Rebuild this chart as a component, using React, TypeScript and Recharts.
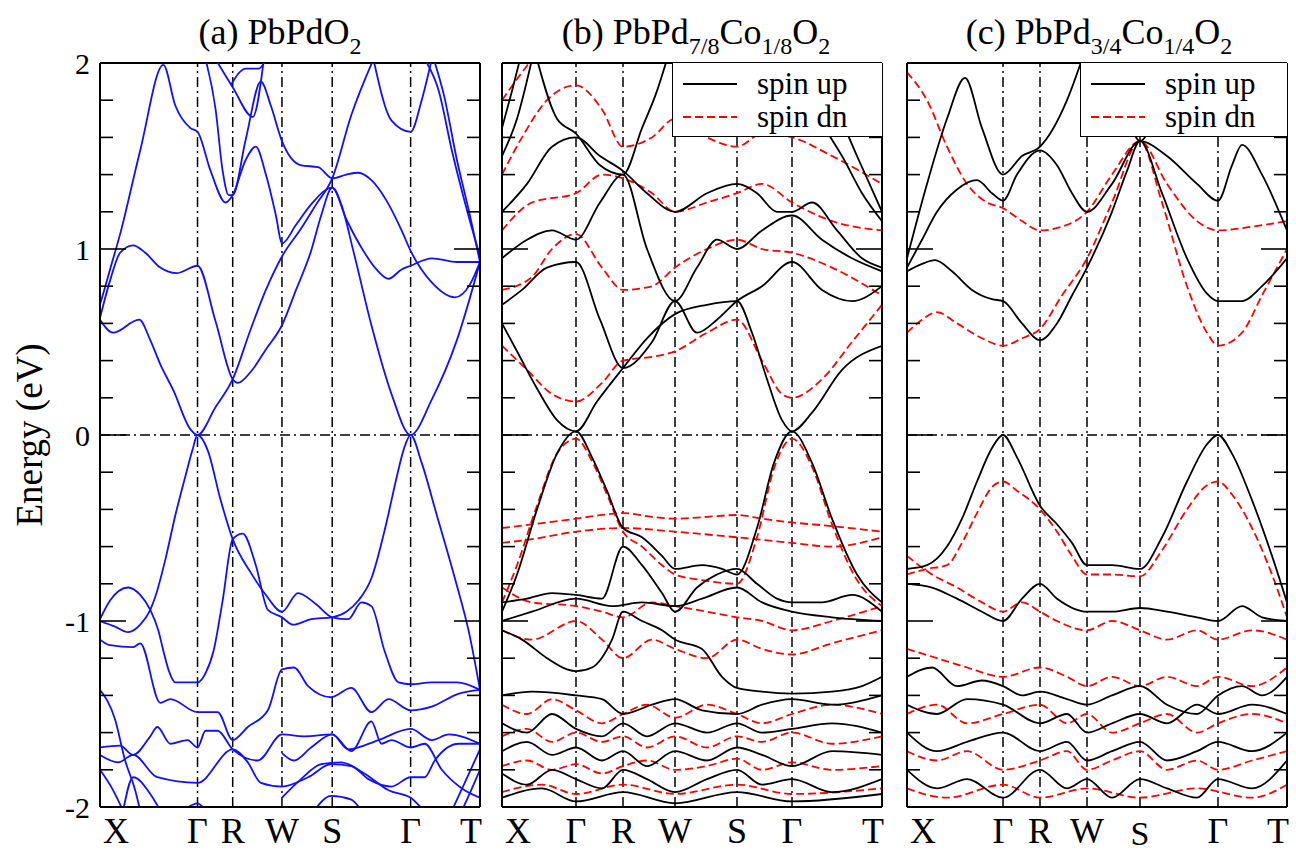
import React from 'react';
import { LineChart, Line, XAxis, YAxis, ReferenceLine } from 'recharts';

type Band = [number, number][];

// high-symmetry points along the k-path of each panel
const kLabels = ['X', 'Γ', 'R', 'W', 'S', 'Γ', 'T'];
const kPointsA = [0, 97, 132, 181, 231, 309, 378];
const kPointsB = [0, 74, 121, 173, 235, 290, 380];
const kPointsC = [0, 96, 133, 180, 233, 311, 380];

const yTicks = [-2, -1.8, -1.6, -1.4, -1.2, -1, -0.8, -0.6, -0.4, -0.2, 0, 0.2, 0.4, 0.6, 0.8, 1, 1.2, 1.4, 1.6, 1.8, 2];

// (a) PbPdO2 bands, [k, E in eV]
const bandsA: Band[] = [
  [[0, 0.62], [13, 0.55], [39, 0.62], [50, 0.51], [60, 0.38], [73, 0.24], [90, 0.03], [97, 0], [115, 0.15], [132, 0.3], [150, 0.57], [165, 0.78], [181, 0.96], [200, 1.11], [215, 1.24], [231, 1.38], [250, 1.72], [272, 2.02]],
  [[0, 0.63], [10, 0.83], [20, 0.98], [33, 1.02], [45, 0.98], [60, 0.9], [76, 0.87], [97, 0.91], [115, 0.61], [132, 0.3], [137, 0.28], [150, 0.34], [165, 0.46], [181, 0.59], [195, 0.78], [210, 0.99], [220, 1.18], [231, 1.33], [240, 1.24], [252, 0.99], [270, 0.59], [290, 0.22], [309, 0], [330, 0.19], [355, 0.51], [378, 0.93]],
  [[0, 0.7], [10, 0.89], [20, 1.08], [40, 1.53], [63, 1.99], [75, 1.77], [90, 1.65], [97, 1.63], [110, 1.42], [125, 1.25], [132, 1.29], [145, 1.48], [155, 1.55], [165, 1.4], [175, 1.18], [181, 1.03], [195, 1.13], [210, 1.24], [231, 1.33], [245, 1.16], [262, 0.99], [275, 0.89], [287, 0.84], [300, 0.89], [309, 0.91], [330, 0.95], [355, 0.93], [378, 0.93]],
  [[105, 2.02], [115, 1.75], [122, 1.42], [128, 1.29], [132, 1.29], [145, 1.59], [160, 1.9], [170, 1.77], [181, 1.58], [200, 1.45], [217, 1.44], [231, 1.38], [245, 1.4], [257, 1.41], [270, 1.37], [285, 1.26], [300, 1.1], [309, 0.99], [330, 0.82], [353, 0.74], [368, 0.81], [378, 0.93]],
  [[272, 2.02], [290, 1.69], [309, 1.63], [320, 1.8], [330, 2.02]],
  [[323, 2.02], [337, 1.85], [350, 1.53], [365, 1.21], [378, 0.96]],
  [[332, 2.02], [342, 1.83], [355, 1.48], [368, 1.18], [378, 0.93]],
  [[115, 2.02], [132, 1.87], [152, 1.71], [163, 2.02]],
  [[130, 1.88], [145, 1.97], [158, 1.97], [165, 2.02]],
  // valence
  [[0, -1.0], [15, -1.03], [28, -1.06], [40, -1.02], [50, -0.94], [55, -0.87], [65, -0.67], [75, -0.43], [85, -0.22], [92, -0.08], [97, 0], [107, -0.08], [120, -0.35], [132, -0.56], [150, -0.74], [165, -0.86], [181, -0.95], [197, -0.85], [215, -0.91], [231, -0.98], [247, -0.99], [260, -0.9], [270, -0.92], [283, -1.16], [297, -1.33], [309, -1.34], [330, -1.33], [355, -1.33], [378, -1.37]],
  [[0, -0.99], [10, -0.89], [28, -0.82], [40, -0.86], [50, -0.94], [58, -1.05], [63, -1.16], [68, -1.26], [75, -1.33], [97, -1.33], [105, -1.28], [113, -1.16], [122, -0.89], [132, -0.56], [142, -0.53], [155, -0.7], [167, -0.94], [181, -0.98], [192, -1.02], [210, -0.99], [231, -0.98], [245, -0.95], [257, -0.89], [270, -0.77], [285, -0.47], [295, -0.23], [302, -0.08], [309, 0], [320, -0.15], [335, -0.43], [353, -0.77], [367, -1.06], [378, -1.37]],
  [[0, -1.1], [10, -1.13], [33, -1.14], [40, -1.12], [60, -1.44], [70, -1.42], [97, -1.49], [117, -1.49], [132, -1.64], [147, -1.57], [167, -1.48], [181, -1.26], [193, -1.25], [207, -1.35], [230, -1.41], [250, -1.36], [270, -1.49], [287, -1.42], [309, -1.48], [330, -1.46], [357, -1.39], [378, -1.37]],
  [[0, -1.68], [20, -1.67], [33, -1.72], [50, -1.62], [57, -1.57], [70, -1.66], [87, -1.64], [97, -1.68], [105, -1.59], [117, -1.59], [132, -1.69], [157, -1.75], [181, -1.61], [203, -1.62], [231, -1.61], [247, -1.69], [277, -1.64], [309, -1.58], [330, -1.64], [347, -1.61], [378, -1.66]],
  [[181, -1.71], [193, -1.75], [210, -1.68], [231, -1.61], [250, -1.7], [270, -1.54], [280, -1.66], [290, -1.64], [309, -1.68], [323, -1.66], [340, -1.8], [360, -1.9], [378, -1.95]],
  [[0, -1.72], [18, -1.76], [33, -1.72], [57, -1.84], [97, -1.87], [132, -1.69], [147, -1.76], [160, -1.87], [181, -1.89], [207, -1.84], [230, -1.77], [250, -1.78], [267, -1.85], [290, -1.89], [309, -1.84], [323, -1.84], [333, -1.75], [357, -1.66], [378, -1.66]],
  [[181, -1.95], [200, -1.85], [220, -1.77], [240, -1.76], [263, -1.82], [287, -1.91], [309, -1.95], [322, -2.02]],
  [[0, -1.37], [15, -1.53], [25, -1.75], [35, -1.91], [40, -2.02]],
  [[0, -1.8], [12, -1.9], [23, -2.02]],
  [[23, -2.02], [33, -1.84], [50, -1.93], [60, -2.02]],
  [[83, -2.02], [97, -1.98], [105, -2.02]],
  [[213, -2.02], [230, -1.94], [250, -1.96], [260, -2.02]],
  [[350, -2.02], [367, -1.82], [378, -1.69]],
  [[360, -2.02], [370, -1.9], [378, -1.8]],
];

// (b) PbPd7/8Co1/8O2, spin up
const bandsBUp: Band[] = [
  [[0, 0.6], [15, 0.45], [35, 0.25], [55, 0.08], [74, 0.02], [95, 0.18], [121, 0.36], [145, 0.52], [173, 0.65], [205, 0.7], [235, 0.72], [250, 0.55], [265, 0.3], [280, 0.08], [290, 0.02], [310, 0.12], [340, 0.35], [380, 0.48]],
  [[0, 0.7], [20, 0.78], [45, 0.9], [74, 0.93], [98, 0.62], [121, 0.36], [150, 0.5], [173, 0.72], [195, 0.55], [215, 0.62], [235, 0.72], [260, 0.8], [290, 0.93], [320, 0.78], [350, 0.72], [380, 0.8]],
  [[0, 0.95], [25, 1.05], [50, 1.1], [74, 1.05], [98, 1.25], [121, 1.4], [145, 1.0], [173, 0.72], [195, 0.9], [215, 1.05], [235, 1.0], [260, 1.1], [290, 1.18], [320, 1.05], [350, 0.95], [380, 0.88]],
  [[0, 1.2], [25, 1.35], [50, 1.55], [74, 1.6], [98, 1.5], [121, 1.42], [145, 1.3], [173, 1.2], [205, 1.3], [235, 1.35], [255, 1.3], [275, 1.2], [290, 1.2], [310, 1.25], [335, 1.1], [360, 0.95], [380, 0.9]],
  [[0, 1.5], [15, 1.7], [30, 2.02]],
  [[0, 1.65], [10, 1.85], [18, 2.02]],
  [[35, 2.02], [55, 1.7], [74, 1.62], [98, 1.45], [121, 1.4], [140, 1.65], [155, 1.85], [165, 2.02]],
  [[190, 2.02], [210, 1.75], [235, 1.62], [260, 1.7], [290, 1.8], [315, 1.7], [340, 1.5], [360, 1.3], [380, 1.15]],
  [[300, 2.02], [330, 1.8], [355, 1.5], [380, 1.2]],
  // valence
  [[0, -0.95], [15, -0.75], [35, -0.4], [55, -0.1], [74, 0.02], [90, -0.12], [105, -0.3], [121, -0.5], [140, -0.55], [160, -0.65], [173, -0.72], [200, -0.7], [220, -0.72], [235, -0.75], [255, -0.5], [272, -0.15], [290, 0.02], [310, -0.15], [330, -0.45], [355, -0.75], [380, -0.9]],
  [[0, -0.9], [25, -0.88], [50, -0.85], [74, -0.86], [100, -0.88], [121, -0.6], [140, -0.7], [160, -0.85], [173, -0.95], [195, -0.82], [215, -0.75], [235, -0.72], [255, -0.8], [275, -0.88], [290, -0.9], [320, -0.9], [350, -0.86], [380, -0.95]],
  [[0, -1.0], [30, -0.95], [74, -0.88], [110, -0.92], [140, -0.9], [173, -0.92], [200, -0.88], [235, -0.82], [260, -0.9], [290, -0.95], [330, -0.98], [380, -1.0]],
  [[0, -1.05], [20, -1.1], [45, -1.2], [65, -1.26], [74, -1.27], [90, -1.25], [110, -1.1], [121, -0.95], [140, -1.0], [160, -1.05], [173, -1.1], [200, -1.15], [220, -1.3], [235, -1.36], [260, -1.38], [290, -1.39], [330, -1.38], [360, -1.35], [380, -1.3]],
  [[0, -1.4], [30, -1.38], [74, -1.4], [100, -1.42], [121, -1.5], [150, -1.45], [173, -1.42], [200, -1.48], [235, -1.5], [260, -1.45], [290, -1.42], [330, -1.45], [380, -1.4]],
  [[0, -1.55], [25, -1.6], [50, -1.5], [74, -1.58], [100, -1.62], [121, -1.55], [145, -1.62], [173, -1.55], [205, -1.6], [235, -1.55], [260, -1.6], [290, -1.58], [330, -1.55], [380, -1.6]],
  [[0, -1.7], [25, -1.65], [50, -1.72], [74, -1.68], [100, -1.75], [121, -1.7], [145, -1.78], [173, -1.7], [205, -1.75], [235, -1.68], [260, -1.72], [290, -1.78], [330, -1.7], [380, -1.72]],
  [[0, -1.82], [25, -1.88], [50, -1.8], [74, -1.85], [100, -1.9], [121, -1.8], [145, -1.85], [173, -1.92], [205, -1.85], [235, -1.8], [260, -1.88], [290, -1.85], [330, -1.92], [380, -1.85]],
  [[0, -1.95], [40, -1.9], [74, -1.97], [121, -1.92], [173, -1.98], [235, -1.92], [290, -1.97], [380, -1.93]],
];

// (b) spin down
const bandsBDn: Band[] = [
  [[0, 0.48], [25, 0.35], [50, 0.22], [74, 0.18], [100, 0.28], [121, 0.4], [150, 0.42], [173, 0.45], [205, 0.55], [235, 0.62], [260, 0.4], [280, 0.22], [290, 0.2], [320, 0.3], [350, 0.5], [380, 0.7]],
  [[0, 0.78], [30, 0.85], [50, 1.0], [74, 1.08], [100, 0.9], [121, 0.78], [150, 0.8], [173, 0.9], [205, 1.0], [235, 1.05], [260, 1.0], [290, 0.98], [330, 0.9], [380, 0.75]],
  [[0, 1.1], [30, 1.25], [74, 1.3], [100, 1.4], [121, 1.38], [150, 1.3], [173, 1.2], [205, 1.25], [235, 1.3], [260, 1.35], [290, 1.25], [330, 1.15], [380, 1.1]],
  [[0, 1.4], [20, 1.6], [45, 1.8], [74, 1.88], [100, 1.75], [121, 1.55], [150, 1.6], [173, 1.7], [205, 1.6], [235, 1.55], [260, 1.62], [290, 1.6], [330, 1.5], [380, 1.35]],
  [[0, 1.8], [20, 1.95], [30, 2.02]],
  // valence
  [[0, -0.9], [15, -0.7], [35, -0.38], [55, -0.1], [74, -0.02], [90, -0.14], [105, -0.32], [121, -0.52], [140, -0.6], [160, -0.7], [173, -0.75], [200, -0.78], [235, -0.8], [255, -0.55], [272, -0.18], [290, -0.02], [310, -0.17], [330, -0.48], [355, -0.78], [380, -0.92]],
  [[0, -0.5], [30, -0.48], [74, -0.45], [100, -0.43], [121, -0.42], [150, -0.44], [173, -0.45], [205, -0.44], [235, -0.43], [260, -0.45], [290, -0.47], [330, -0.49], [380, -0.52]],
  [[0, -0.58], [30, -0.56], [74, -0.52], [121, -0.5], [173, -0.52], [235, -0.55], [290, -0.58], [330, -0.6], [380, -0.55]],
  [[0, -0.82], [30, -0.9], [74, -0.92], [100, -0.95], [121, -0.98], [150, -0.9], [173, -0.92], [205, -0.95], [235, -0.98], [260, -1.0], [290, -1.05], [330, -1.0], [380, -0.92]],
  [[0, -1.05], [30, -1.1], [74, -1.0], [100, -1.1], [121, -1.2], [150, -1.1], [173, -1.15], [205, -1.2], [235, -1.1], [260, -1.15], [290, -1.18], [330, -1.12], [380, -1.05]],
  [[0, -1.45], [25, -1.5], [50, -1.42], [74, -1.48], [100, -1.55], [121, -1.5], [145, -1.45], [173, -1.52], [205, -1.45], [235, -1.5], [260, -1.55], [290, -1.5], [330, -1.45], [380, -1.5]],
  [[0, -1.62], [25, -1.58], [50, -1.65], [74, -1.6], [100, -1.65], [121, -1.62], [145, -1.68], [173, -1.62], [205, -1.68], [235, -1.62], [260, -1.65], [290, -1.6], [330, -1.66], [380, -1.62]],
  [[0, -1.78], [25, -1.75], [50, -1.8], [74, -1.77], [100, -1.82], [121, -1.78], [145, -1.75], [173, -1.8], [205, -1.78], [235, -1.74], [260, -1.8], [290, -1.76], [330, -1.8], [380, -1.78]],
  [[0, -1.92], [40, -1.88], [74, -1.93], [121, -1.88], [173, -1.93], [235, -1.88], [290, -1.93], [380, -1.9]],
];

// (c) PbPd3/4Co1/4O2, spin up
const bandsCUp: Band[] = [
  [[0, 0.88], [15, 0.92], [28, 0.94], [45, 0.88], [65, 0.78], [85, 0.73], [96, 0.72], [115, 0.6], [133, 0.51], [150, 0.6], [165, 0.75], [180, 0.9], [205, 1.2], [220, 1.42], [233, 1.58], [255, 1.3], [280, 0.95], [300, 0.76], [311, 0.72], [335, 0.72], [355, 0.8], [380, 0.95]],
  [[0, 0.9], [15, 1.05], [30, 1.2], [50, 1.32], [70, 1.37], [85, 1.3], [96, 1.26], [110, 1.4], [133, 1.53], [150, 1.45], [165, 1.3], [180, 1.2], [205, 1.35], [233, 1.58], [260, 1.5], [290, 1.35], [311, 1.26], [325, 1.45], [335, 1.56], [355, 1.4], [380, 1.1]],
  [[0, 0.95], [20, 1.35], [40, 1.7], [58, 1.92], [75, 1.65], [96, 1.4], [115, 1.5], [133, 1.55], [160, 1.8], [175, 2.02]],
  [[195, 2.02], [215, 1.8], [233, 1.58], [250, 1.75], [265, 2.02]],
  // valence
  [[0, -0.72], [20, -0.7], [40, -0.6], [55, -0.45], [70, -0.25], [85, -0.07], [96, 0], [110, -0.12], [133, -0.38], [150, -0.48], [165, -0.58], [180, -0.7], [205, -0.7], [233, -0.72], [255, -0.55], [280, -0.25], [300, -0.05], [311, 0], [325, -0.1], [345, -0.35], [365, -0.65], [380, -0.9]],
  [[0, -0.8], [25, -0.82], [50, -0.88], [75, -0.95], [96, -1.0], [115, -0.88], [133, -0.8], [150, -0.88], [180, -0.95], [205, -0.95], [233, -0.93], [260, -0.95], [290, -0.98], [311, -1.0], [335, -0.92], [355, -0.98], [380, -1.0]],
  [[0, -1.3], [25, -1.25], [50, -1.35], [75, -1.32], [96, -1.35], [115, -1.4], [133, -1.38], [160, -1.42], [180, -1.45], [205, -1.4], [233, -1.35], [260, -1.45], [290, -1.5], [311, -1.4], [335, -1.35], [355, -1.4], [380, -1.3]],
  [[0, -1.45], [30, -1.5], [60, -1.42], [96, -1.45], [133, -1.55], [160, -1.5], [180, -1.6], [205, -1.55], [233, -1.5], [260, -1.55], [290, -1.45], [311, -1.5], [345, -1.45], [380, -1.5]],
  [[0, -1.6], [30, -1.7], [60, -1.65], [96, -1.6], [133, -1.7], [160, -1.65], [180, -1.75], [205, -1.7], [233, -1.65], [260, -1.75], [290, -1.7], [311, -1.65], [345, -1.7], [380, -1.6]],
  [[0, -1.8], [30, -1.9], [60, -1.85], [96, -1.95], [133, -1.8], [160, -1.9], [180, -1.85], [205, -1.95], [233, -1.85], [260, -1.9], [290, -1.95], [311, -1.85], [345, -1.9], [380, -1.75]],
];

// (c) spin down
const bandsCDn: Band[] = [
  [[0, 0.55], [15, 0.62], [30, 0.66], [50, 0.6], [75, 0.52], [96, 0.48], [115, 0.52], [133, 0.57], [155, 0.75], [180, 0.95], [205, 1.25], [233, 1.58], [255, 1.25], [280, 0.8], [300, 0.55], [311, 0.48], [335, 0.55], [355, 0.75], [380, 1.0]],
  [[0, 1.95], [20, 1.8], [40, 1.55], [60, 1.35], [80, 1.25], [96, 1.22], [115, 1.15], [133, 1.1], [155, 1.12], [180, 1.2], [205, 1.4], [233, 1.58], [260, 1.35], [290, 1.15], [311, 1.1], [345, 1.12], [380, 1.15]],
  // valence
  [[0, -0.75], [20, -0.72], [40, -0.7], [55, -0.58], [70, -0.42], [85, -0.28], [96, -0.25], [110, -0.3], [133, -0.4], [150, -0.52], [165, -0.65], [180, -0.75], [205, -0.75], [233, -0.76], [255, -0.62], [280, -0.4], [300, -0.27], [311, -0.25], [325, -0.32], [345, -0.5], [365, -0.75], [380, -0.98]],
  [[0, -0.65], [25, -0.75], [50, -0.82], [75, -0.9], [96, -0.95], [115, -0.9], [133, -0.95], [150, -1.0], [180, -1.05], [205, -1.0], [233, -1.05], [260, -1.1], [290, -1.05], [311, -1.1], [345, -1.05], [380, -1.1]],
  [[0, -1.15], [30, -1.2], [60, -1.25], [96, -1.3], [133, -1.25], [160, -1.3], [180, -1.35], [205, -1.3], [233, -1.35], [260, -1.3], [290, -1.35], [311, -1.3], [345, -1.35], [380, -1.25]],
  [[0, -1.5], [30, -1.45], [60, -1.55], [96, -1.5], [133, -1.45], [160, -1.55], [180, -1.5], [205, -1.6], [233, -1.55], [260, -1.5], [290, -1.6], [311, -1.55], [345, -1.5], [380, -1.55]],
  [[0, -1.7], [30, -1.75], [60, -1.7], [96, -1.8], [133, -1.75], [160, -1.7], [180, -1.8], [205, -1.75], [233, -1.7], [260, -1.8], [290, -1.75], [311, -1.8], [345, -1.75], [380, -1.7]],
  [[0, -1.9], [40, -1.95], [96, -1.88], [133, -1.95], [180, -1.9], [233, -1.95], [290, -1.9], [345, -1.95], [380, -1.88]],
];

const SERIF = 'Liberation Serif, Times New Roman, DejaVu Serif, serif';

const LeftTick = (props: any) => {
  const { x, y, payload, showLabel } = props;
  const v = payload.value;
  const major = Math.abs(v - Math.round(v)) < 1e-6;
  return (
    <g>
      <line x1={x} x2={x + (major ? 26 : 13)} y1={y} y2={y} stroke="#000" strokeWidth={1.6} />
      {showLabel && major && (
        <text x={x - 10} y={y} dy="0.35em" textAnchor="end" fontSize={30} fontFamily={SERIF} fill="#000">
          {Math.round(v)}
        </text>
      )}
    </g>
  );
};

const RightTick = (props: any) => {
  const { x, y, payload } = props;
  const v = payload.value;
  const major = Math.abs(v - Math.round(v)) < 1e-6;
  return <line x1={x} x2={x - (major ? 26 : 13)} y1={y} y2={y} stroke="#000" strokeWidth={1.6} />;
};

const KTick = (props: any) => {
  const { x, y, index, lowS } = props;
  const label = kLabels[index];
  const isLowS = lowS && label === 'S';
  const shift = index === 0 ? 16 : index === kLabels.length - 1 ? -9 : 0;
  return (
    <text
      x={x + shift}
      y={y + (isLowS ? 38 : 36)}
      textAnchor="middle"
      fontSize={isLowS ? 34 : 36}
      fontFamily={SERIF}
      fill="#000"
    >
      {label}
    </text>
  );
};

interface PanelProps {
  left: number;
  axisW: number;
  kPoints: number[];
  series: { bands: Band[]; color: string; dash?: string }[];
  showLabels?: boolean;
  lowS?: boolean;
}

function Panel({ left, axisW, kPoints, series, showLabels, lowS }: PanelProps) {
  const kMax = kPoints[kPoints.length - 1];
  const plotW = 380;
  return (
    <div style={{ position: 'absolute', left, top: 0 }}>
      <LineChart width={axisW + plotW + 12} height={853} margin={{ top: 63, right: 0, bottom: 0, left: 0 }}>
        <XAxis
          type="number"
          dataKey="k"
          domain={[0, kMax]}
          ticks={kPoints}
          interval={0}
          height={46}
          tickSize={0}
          tickMargin={0}
          allowDataOverflow
          axisLine={{ stroke: '#000', strokeWidth: 2 }}
          tickLine={false}
          tick={(p: any) => <KTick {...p} lowS={lowS} />}
        />
        <YAxis
          yAxisId="l"
          type="number"
          domain={[-2, 2]}
          ticks={yTicks}
          interval={0}
          width={axisW}
          tickSize={0}
          tickMargin={0}
          allowDataOverflow
          axisLine={{ stroke: '#000', strokeWidth: 2 }}
          tickLine={false}
          tick={(p: any) => <LeftTick {...p} showLabel={showLabels} />}
        />
        <YAxis
          yAxisId="r"
          orientation="right"
          type="number"
          domain={[-2, 2]}
          ticks={yTicks}
          interval={0}
          width={12}
          tickSize={0}
          tickMargin={0}
          allowDataOverflow
          axisLine={{ stroke: '#000', strokeWidth: 2 }}
          tickLine={false}
          tick={(p: any) => <RightTick {...p} />}
        />
        {kPoints.slice(1, -1).map((k, i) => (
          <ReferenceLine key={`kv-${i}`} yAxisId="l" x={k} stroke="#000" strokeWidth={1.5} strokeDasharray="10 4 2 4" />
        ))}
        <ReferenceLine yAxisId="l" y={0} stroke="#000" strokeWidth={1.5} strokeDasharray="10 4 2 4" />
        <ReferenceLine yAxisId="l" y={2} stroke="#000" strokeWidth={2} />
        {series.map((s, si) =>
          s.bands.map((b, bi) => (
            <Line
              key={`band-${si}-${bi}`}
              yAxisId="l"
              data={b.map(([k, e]) => ({ k, e }))}
              dataKey="e"
              type="monotone"
              stroke={s.color}
              strokeWidth={1.8}
              strokeDasharray={s.dash}
              dot={false}
              activeDot={false}
              isAnimationActive={false}
            />
          )),
        )}
      </LineChart>
    </div>
  );
}

const Legend = ({ left, width }: { left: number; width: number }) => (
  <div
    style={{
      position: 'absolute',
      left,
      top: 63,
      width,
      height: 74,
      background: '#fff',
      borderLeft: '1.5px solid #000',
      borderBottom: '1.5px solid #000',
      boxSizing: 'border-box',
      fontFamily: SERIF,
      fontSize: 31,
    }}
  >
    {[
      { label: 'spin up', color: '#000', dash: undefined },
      { label: 'spin dn', color: '#f00', dash: '8 4' },
    ].map((r, i) => (
      <div key={r.label} style={{ position: 'absolute', left: 10, top: 6 + i * 33, height: 30, display: 'flex', alignItems: 'center' }}>
        <svg width={54} height={10}>
          <line x1={0} x2={54} y1={5} y2={5} stroke={r.color} strokeWidth={1.8} strokeDasharray={r.dash} />
        </svg>
        <span style={{ marginLeft: 20, lineHeight: '30px' }}>{r.label}</span>
      </div>
    ))}
  </div>
);

const Title = ({ center, children }: { center: number; children: React.ReactNode }) => (
  <div
    style={{
      position: 'absolute',
      left: center - 220,
      width: 440,
      top: 12,
      textAlign: 'center',
      fontFamily: SERIF,
      fontSize: 36,
      lineHeight: '40px',
      whiteSpace: 'nowrap',
    }}
  >
    {children}
  </div>
);

const subStyle: React.CSSProperties = { fontSize: 24, verticalAlign: '-0.4em', lineHeight: 0 };

export default function App() {
  return (
    <div style={{ position: 'absolute', left: 0, top: 0, width: 1296, height: 853, background: '#fff' }}>
      <Panel left={0} axisW={100} kPoints={kPointsA} series={[{ bands: bandsA, color: '#1010ff' }]} showLabels />
      <Panel
        left={490}
        axisW={12}
        kPoints={kPointsB}
        series={[
          { bands: bandsBDn, color: '#f00', dash: '8 4' },
          { bands: bandsBUp, color: '#000' },
        ]}
      />
      <Panel
        left={895}
        axisW={12}
        kPoints={kPointsC}
        lowS
        series={[
          { bands: bandsCDn, color: '#f00', dash: '8 4' },
          { bands: bandsCUp, color: '#000' },
        ]}
      />
      <Legend left={672} width={210} />
      <Legend left={1080} width={207} />
      <Title center={280}>
        (a) PbPdO<span style={subStyle}>2</span>
      </Title>
      <Title center={696}>
        (b) PbPd<span style={subStyle}>7/8</span>Co<span style={subStyle}>1/8</span>O<span style={subStyle}>2</span>
      </Title>
      <Title center={1099}>
        (c) PbPd<span style={subStyle}>3/4</span>Co<span style={subStyle}>1/4</span>O<span style={subStyle}>2</span>
      </Title>
      <div
        style={{
          position: 'absolute',
          left: 30 - 120,
          top: 435 - 21,
          width: 240,
          textAlign: 'center',
          transform: 'rotate(-90deg)',
          fontFamily: SERIF,
          fontSize: 37,
          lineHeight: '42px',
        }}
      >
        Energy (eV)
      </div>
    </div>
  );
}
